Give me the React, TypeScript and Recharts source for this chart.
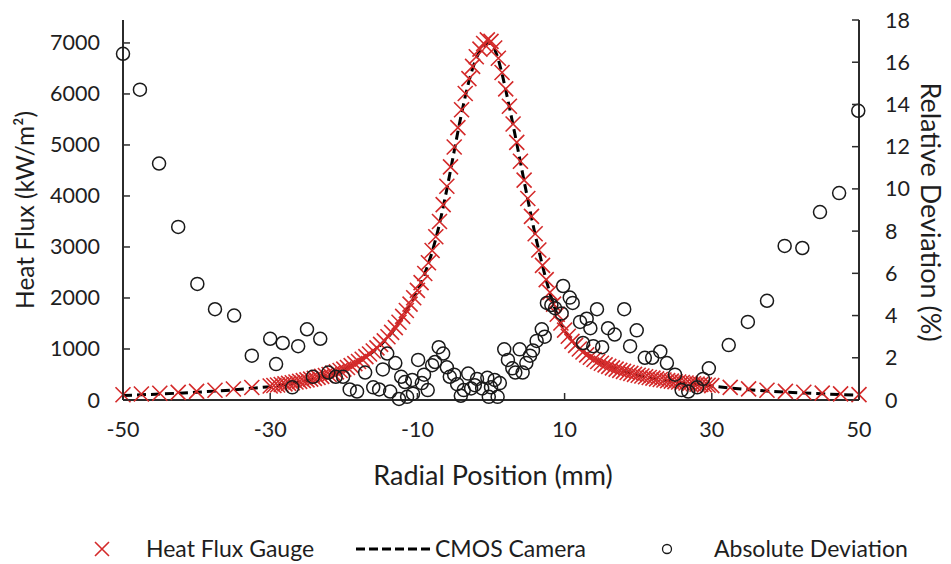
import React from 'react';
import { ComposedChart, XAxis, YAxis, Scatter, Line } from 'recharts';

const FONT = 'Lato, "Liberation Sans", sans-serif';
const TEXT = '#1e1e1e';
const AXIS = '#2b2b2b';
const RED = '#d42a2a';

const xTicks = [-50, -30, -10, 10, 30, 50];
const fluxTicks = [0, 1000, 2000, 3000, 4000, 5000, 6000, 7000];
const devTicks = [0, 2, 4, 6, 8, 10, 12, 14, 16, 18];

const xTitle = 'Radial Position (mm)';
const fluxTitle = 'Heat Flux (kW/m²)';
const devTitle = 'Relative Deviation (%)';
const legendNames = ['Heat Flux Gauge', 'CMOS Camera', 'Absolute Deviation'];

// Heat flux gauge [radial position mm, kW/m2]
const gaugePoints: [number, number][] = [
  [-50, 104], [-47.5, 118], [-45, 133], [-42.5, 150], [-40, 168], [-37.5, 190], [-35, 215], [-32.5, 245],
  [-30, 275], [-29.5, 284], [-29, 294], [-28.5, 304], [-28, 315], [-27.5, 327], [-27, 339], [-26.5, 352],
  [-26, 365], [-25.5, 379], [-25, 394], [-24.5, 409], [-24, 425], [-23.5, 443], [-23, 462], [-22.5, 481],
  [-22, 500], [-21.5, 527], [-21, 552], [-20.5, 578], [-20, 605], [-19.5, 638], [-19, 675], [-18.5, 713],
  [-18, 755], [-17.5, 800], [-17, 850], [-16.5, 903], [-16, 960], [-15.5, 1022], [-15, 1090], [-14.5, 1160],
  [-14, 1240], [-13.5, 1325], [-13, 1420], [-12.5, 1525], [-12, 1640], [-11.5, 1755], [-11, 1880], [-10.5, 2005],
  [-10, 2150], [-9.5, 2300], [-9, 2480], [-8.5, 2690], [-8, 2930], [-7.5, 3200], [-7, 3500], [-6.5, 3830],
  [-6, 4190], [-5.5, 4570], [-5, 4960], [-4.5, 5340], [-4, 5690], [-3.5, 6010], [-3, 6300], [-2.5, 6540],
  [-2, 6730], [-1.5, 6880], [-1, 6990], [-0.5, 7060], [0, 7030], [0.5, 6900], [1, 6700], [1.5, 6420],
  [2, 6100], [2.5, 5760], [3, 5410], [3.5, 5050], [4, 4680], [4.5, 4310], [5, 3950], [5.5, 3600],
  [6, 3260], [6.5, 2940], [7, 2640], [7.5, 2360], [8, 2110], [8.5, 1880], [9, 1680], [9.5, 1510],
  [10, 1370], [10.5, 1250], [11, 1150], [11.5, 1070], [12, 1000], [12.5, 940], [13, 885], [13.5, 838],
  [14, 795], [14.5, 755], [15, 720], [15.5, 688], [16, 658], [16.5, 630], [17, 605], [17.5, 582],
  [18, 560], [18.5, 540], [19, 521], [19.5, 503], [20, 486], [20.5, 470], [21, 455], [21.5, 441],
  [22, 428], [22.5, 415], [23, 403], [23.5, 392], [24, 381], [24.5, 371], [25, 361], [25.5, 352],
  [26, 343], [26.5, 334], [27, 326], [27.5, 318], [28, 310], [28.5, 303], [29, 296], [29.5, 289],
  [30, 282], [32.5, 248], [35, 218], [37.5, 192], [40, 170], [42.5, 151], [45, 134], [47.5, 119], [50, 106],
];

// CMOS camera [radial position mm, kW/m2]
const cameraPoints: [number, number][] = [
  [-50, 88], [-47.5, 102], [-45, 116], [-42.5, 134], [-40, 152], [-37.5, 174], [-35, 198], [-32.5, 228],
  [-30, 262], [-29, 282], [-28, 304], [-27, 330], [-26, 356], [-25, 385], [-24, 417], [-23, 455],
  [-22, 495], [-21, 545], [-20, 598], [-19, 668], [-18, 748], [-17, 842], [-16, 950], [-15, 1080],
  [-14, 1230], [-13, 1410], [-12, 1630], [-11, 1870], [-10, 2140], [-9.5, 2300], [-9, 2475], [-8.5, 2680],
  [-8, 2900], [-7.5, 3160], [-7, 3450], [-6.5, 3780], [-6, 4130], [-5.5, 4500], [-5, 4880], [-4.5, 5260],
  [-4, 5620], [-3.5, 5950], [-3, 6250], [-2.5, 6500], [-2, 6700], [-1.5, 6850], [-1, 6950], [-0.5, 7000],
  [0, 6990], [0.5, 6880], [1, 6680], [1.5, 6400], [2, 6080], [2.5, 5740], [3, 5390], [3.5, 5030],
  [4, 4660], [4.5, 4290], [5, 3930], [5.5, 3580], [6, 3240], [6.5, 2930], [7, 2630], [7.5, 2350],
  [8, 2100], [8.5, 1870], [9, 1670], [9.5, 1500], [10, 1360], [11, 1150], [12, 1010], [13, 900],
  [14, 810], [15, 730], [16, 665], [17, 612], [18, 565], [19, 522], [20, 485], [21, 452],
  [22, 424], [23, 398], [24, 375], [25, 354], [26, 335], [27, 318], [28, 302], [29, 288],
  [30, 274], [32.5, 235], [35, 203], [37.5, 176], [40, 155], [42.5, 137], [45, 121], [47.5, 107], [50, 93],
];

// Deviation [radial position mm, %]
const deviationPoints: [number, number][] = [
  [-50, 16.4], [-47.7, 14.7], [-45.1, 11.2], [-42.5, 8.2], [-39.9, 5.5], [-37.5, 4.3], [-34.9, 4.0], [-32.5, 2.1],
  [-30.0, 2.9], [-29.2, 1.7], [-28.3, 2.7], [-27.0, 0.6], [-26.2, 2.55], [-25.0, 3.35], [-24.2, 1.1], [-23.2, 2.9],
  [-22.1, 1.3], [-21.1, 1.1], [-20.1, 1.1], [-19.2, 0.5], [-18.2, 0.4], [-17.1, 1.3], [-16.0, 0.6], [-15.2, 0.5],
  [-14.7, 1.45], [-14.1, 2.2], [-13.7, 0.4], [-13.0, 1.75], [-12.5, 0.05], [-12.2, 1.1], [-11.7, 0.85], [-11.4, 0.15],
  [-10.7, 0.95], [-10.6, 0.3], [-9.9, 1.9], [-9.4, 0.8], [-9.1, 1.2], [-8.6, 0.47], [-8.0, 1.65], [-7.6, 1.8],
  [-7.1, 2.5], [-6.5, 2.2], [-6.0, 1.55], [-5.6, 1.1], [-5.0, 1.2], [-4.6, 0.75], [-4.1, 0.2], [-3.7, 0.47],
  [-3.1, 1.25], [-2.7, 0.55], [-2.2, 0.7], [-1.9, 1.0], [-1.2, 0.55], [-0.5, 1.05], [-0.3, 0.15], [0.0, 0.6],
  [0.5, 0.95], [0.9, 0.15], [1.2, 0.8], [1.8, 2.4], [2.3, 1.9], [2.9, 1.5], [3.3, 1.3], [3.9, 2.4],
  [4.3, 1.3], [4.8, 1.75], [5.3, 2.1], [5.7, 2.35], [6.2, 2.8], [6.9, 3.35], [7.3, 3.0], [7.6, 4.6],
  [8.2, 4.5], [8.7, 4.35], [9.6, 4.1], [9.8, 5.4], [10.7, 4.85], [11.1, 4.6], [12.1, 3.7], [12.5, 2.7],
  [13.0, 3.85], [13.5, 3.4], [13.9, 2.55], [14.4, 4.3], [15.1, 2.5], [15.9, 3.4], [16.8, 3.1], [18.1, 4.3],
  [18.9, 2.55], [19.8, 3.3], [20.9, 2.0], [21.9, 2.0], [23.0, 2.3], [23.9, 1.75], [25.0, 1.2], [25.9, 0.47],
  [26.8, 0.4], [28.0, 0.6], [28.8, 1.0], [29.6, 1.5], [32.3, 2.6], [34.9, 3.7], [37.5, 4.7], [39.9, 7.3],
  [42.3, 7.2], [44.7, 8.9], [47.3, 9.8], [49.9, 13.7],
];

const gaugeData = gaugePoints.map(([x, y]) => ({ x, y }));
const cameraData = cameraPoints.map(([x, y]) => ({ x, y }));
const deviationData = deviationPoints.map(([x, y]) => ({ x, y }));

const tickFont = { fontFamily: FONT, fontSize: 21.5, fill: TEXT };

const XTick = (props: any) => {
  const { x, y, payload } = props;
  return (
    <g>
      <line x1={x} x2={x} y1={y} y2={y - 7} stroke={AXIS} strokeWidth={1.5} />
      <text x={x} y={y + 37} textAnchor="middle" {...tickFont}>{payload.value}</text>
    </g>
  );
};

const LeftTick = (props: any) => {
  const { x, y, payload } = props;
  return (
    <g>
      <line x1={x} x2={x + 7} y1={y} y2={y} stroke={AXIS} strokeWidth={1.5} />
      <text x={x - 23} y={y + 7.5} textAnchor="end" {...tickFont}>{payload.value}</text>
    </g>
  );
};

const RightTick = (props: any) => {
  const { x, y, payload } = props;
  return (
    <g>
      <line x1={x} x2={x - 7} y1={y} y2={y} stroke={AXIS} strokeWidth={1.5} />
      <text x={x + 26} y={y + 7.5} textAnchor="start" {...tickFont}>{payload.value}</text>
    </g>
  );
};

const CrossShape = (props: any) => {
  const { cx, cy } = props;
  if (cx == null || cy == null) return <g />;
  const s = 7.5;
  return (
    <path
      d={`M${cx - s},${cy - s}L${cx + s},${cy + s}M${cx + s},${cy - s}L${cx - s},${cy + s}`}
      stroke={RED}
      strokeWidth={1.6}
      fill="none"
    />
  );
};

const CircleShape = (props: any) => {
  const { cx, cy } = props;
  if (cx == null || cy == null) return <g />;
  return <circle cx={cx} cy={cy} r={6.5} fill="none" stroke="#1a1a1a" strokeWidth={1.5} />;
};

const LeftTitle = () => (
  <text x={34} y={210} transform="rotate(-90 34 210)" textAnchor="middle" fontFamily={FONT} fontSize={24.5} fill={TEXT}>
    {fluxTitle}
  </text>
);

const RightTitle = () => (
  <text x={921} y={212} transform="rotate(90 921 212)" textAnchor="middle" fontFamily={FONT} fontSize={27} fill={TEXT}>
    {devTitle}
  </text>
);

const BottomTitle = () => (
  <text x={493} y={485} textAnchor="middle" fontFamily={FONT} fontSize={27} fill={TEXT}>
    {xTitle}
  </text>
);

const legendFont = { fontFamily: FONT, fontSize: 23, fill: TEXT };

export default function App() {
  return (
    <div style={{ position: 'absolute', left: 0, top: 0, width: 951, height: 564, background: '#fff' }}>
      <ComposedChart width={951} height={564} margin={{ top: 20, right: 32, left: 53, bottom: 104 }}>
        <XAxis
          dataKey="x"
          type="number"
          domain={[-50, 50]}
          ticks={xTicks}
          interval={0}
          tickSize={0}
          tickMargin={0}
          tickLine={false}
          tick={<XTick />}
          axisLine={{ stroke: AXIS, strokeWidth: 2 }}
          height={60}
          label={{ content: () => <BottomTitle /> }}
        />
        <YAxis
          yAxisId="flux"
          orientation="left"
          type="number"
          domain={[0, 7450]}
          ticks={fluxTicks}
          interval={0}
          tickSize={0}
          tickMargin={0}
          tickLine={false}
          tick={<LeftTick />}
          axisLine={{ stroke: AXIS, strokeWidth: 2 }}
          width={70}
          label={{ content: () => <LeftTitle /> }}
        />
        <YAxis
          yAxisId="dev"
          orientation="right"
          type="number"
          domain={[0, 18]}
          ticks={devTicks}
          interval={0}
          tickSize={0}
          tickMargin={0}
          tickLine={false}
          tick={<RightTick />}
          axisLine={{ stroke: AXIS, strokeWidth: 2 }}
          width={60}
          label={{ content: () => <RightTitle /> }}
        />
        <Scatter
          name={legendNames[0]}
          data={gaugeData}
          dataKey="y"
          yAxisId="flux"
          shape={<CrossShape />}
          isAnimationActive={false}
        />
        <Line
          name={legendNames[1]}
          data={cameraData}
          dataKey="y"
          yAxisId="flux"
          type="linear"
          stroke="#000"
          strokeWidth={3}
          strokeDasharray="9 5"
          dot={false}
          activeDot={false}
          isAnimationActive={false}
        />
        <Scatter
          name={legendNames[2]}
          data={deviationData}
          dataKey="y"
          yAxisId="dev"
          shape={<CircleShape />}
          isAnimationActive={false}
        />
      </ComposedChart>
      <svg
        width={951}
        height={564}
        style={{ position: 'absolute', left: 0, top: 0, pointerEvents: 'none' }}
      >
        <path d="M95,542L109,556M109,542L95,556" stroke={RED} strokeWidth={1.6} fill="none" />
        <text x={146} y={557} {...legendFont}>{legendNames[0]}</text>
        <line x1={356} x2={431} y1={549} y2={549} stroke="#000" strokeWidth={3} strokeDasharray="9 4" />
        <text x={435} y={557} {...legendFont}>{legendNames[1]}</text>
        <circle cx={667} cy={549} r={4.5} fill="none" stroke="#1a1a1a" strokeWidth={1.3} />
        <text x={714} y={557} {...legendFont}>{legendNames[2]}</text>
      </svg>
    </div>
  );
}
